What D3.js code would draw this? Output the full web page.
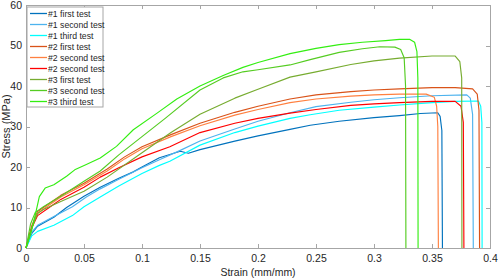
<!DOCTYPE html>
<html lang="en">
<head>
    <meta charset="UTF-8">
    <title>Stress-strain curves</title>
    <script src="https://d3js.org/d3.v7.min.js"></script>
    <style>
        body { margin: 0; background: #fff; }
        svg text { font-family: "Liberation Sans", Arial, sans-serif; fill: #262626; }
        .axis path, .axis line { stroke: #a6a6a6; shape-rendering: crispEdges; }
        .axis text { font-size: 10.5px; }
        .curve { fill: none; stroke-width: 1.15; stroke-linejoin: round; }
    </style>
</head>
<body>
<svg class="chart"></svg>
<script>
    // legend labels
    const seriesNames = ["#1 first test", "#1 second test", "#1 third test",
        "#2 first test", "#2 second test", "#2 second test",
        "#3 first test", "#3 second test", "#3 third test"];

    const xTicks = [0, 0.05, 0.1, 0.15, 0.2, 0.25, 0.3, 0.35, 0.4];
    const yTicks = [0, 10, 20, 30, 40, 50, 60];

    // [strain (mm/mm), stress (MPa)]
    const test1a = [[0,0],[0.005,3.6],[0.01,5.4],[0.024,7.6],[0.035,10],[0.05,12.8],[0.064,15],[0.08,17.2],[0.0925,18.8],[0.1,20],[0.115,22.3],[0.133,23.9],[0.14,23.4],[0.15,24.3],[0.18,26.4],[0.2,27.7],[0.2276,29.3],[0.245,30.3],[0.27,31.3],[0.3,32.2],[0.322,32.7],[0.34,33.2],[0.355,33.4],[0.357,32.5],[0.3585,29],[0.359,0]];
    const test1b = [[0,0],[0.005,3.9],[0.01,5.6],[0.024,7.8],[0.04,10.2],[0.052,12.6],[0.064,14.6],[0.08,17],[0.1,19.8],[0.115,21.8],[0.133,24.1],[0.15,26.4],[0.18,29.4],[0.2,31.3],[0.2276,33.4],[0.25,34.9],[0.28,36],[0.3,36.6],[0.322,37.1],[0.35,37.6],[0.38,37.8],[0.383,37],[0.385,33],[0.3856,0]];
    const test1c = [[0,0],[0.005,3],[0.01,4.1],[0.024,5.6],[0.04,8],[0.05,10.2],[0.064,12.6],[0.08,15.3],[0.1,18.4],[0.115,20.4],[0.124,21.4],[0.15,25.4],[0.18,28.5],[0.2,30.1],[0.2276,32],[0.245,32.9],[0.27,34],[0.3,34.8],[0.322,35.3],[0.35,35.9],[0.37,36.2],[0.39,36.3],[0.392,35],[0.393,31],[0.3932,0]];
    const test2a = [[0,0],[0.005,5.5],[0.01,9],[0.02,11],[0.03,13],[0.05,16],[0.07,19.5],[0.085,22.5],[0.1,25],[0.125,28],[0.15,30.8],[0.18,33.5],[0.2,35],[0.2276,36.8],[0.25,37.8],[0.28,38.6],[0.3,39],[0.322,39.3],[0.35,39.6],[0.37,39.6],[0.385,39.3],[0.389,38],[0.3905,34],[0.391,0]];
    const test2b = [[0,0],[0.005,5],[0.01,8.6],[0.02,10.6],[0.03,12.6],[0.05,15.6],[0.07,19],[0.085,22],[0.1,24.5],[0.125,27.5],[0.15,30.2],[0.18,32.8],[0.2,34.2],[0.2276,35.9],[0.25,36.8],[0.28,37.5],[0.3,37.8],[0.322,38],[0.345,38],[0.352,37.2],[0.354,35],[0.355,30],[0.3555,0]];
    const test2c = [[0,0],[0.005,5],[0.01,8],[0.02,10],[0.03,12],[0.05,15],[0.064,17.5],[0.08,19.8],[0.1,22.5],[0.124,25],[0.15,28.5],[0.18,30.8],[0.2,32],[0.2276,33.3],[0.25,34.2],[0.28,35.2],[0.3,35.6],[0.322,35.9],[0.35,36.2],[0.37,36.2],[0.375,35],[0.377,31],[0.3775,0]];
    const test3a = [[0,0],[0.005,5],[0.01,8.5],[0.015,9.5],[0.03,11.5],[0.05,14],[0.07,17.5],[0.1,23.5],[0.125,28.5],[0.15,33],[0.18,37],[0.2,39.2],[0.2276,42.2],[0.25,43.5],[0.28,45.3],[0.3,46.2],[0.322,46.9],[0.35,47.4],[0.37,47.4],[0.374,46],[0.3756,42],[0.3758,0]];
    const test3b = [[0,0],[0.004,6],[0.008,8.8],[0.015,10.2],[0.03,12.8],[0.05,16.5],[0.064,19],[0.08,23],[0.1,27.5],[0.12,32],[0.15,39],[0.17,42],[0.187,43.5],[0.2,44],[0.2276,45.2],[0.245,46.5],[0.27,48.3],[0.29,49.2],[0.305,49.7],[0.318,49.6],[0.323,49],[0.326,47],[0.3272,40],[0.3275,0]];
    const test3c = [[0,0],[0.005,4.5],[0.008,8.2],[0.0115,12.7],[0.0165,14.8],[0.024,15.6],[0.035,17.7],[0.042,19.3],[0.052,20.6],[0.064,22.2],[0.078,25.1],[0.0925,29.2],[0.113,33.3],[0.13,36.8],[0.15,40],[0.17,42.6],[0.187,44.6],[0.2,45.8],[0.2276,48],[0.25,49.3],[0.27,50.2],[0.29,50.8],[0.31,51.2],[0.322,51.5],[0.331,51.5],[0.335,50.8],[0.337,48.5],[0.3378,42],[0.338,0]];

    const seriesData = [test1a, test1b, test1c, test2a, test2b, test2c, test3a, test3b, test3c];
    const colors = ["#0072BD", "#4DB3EE", "#00FFFF", "#D95319", "#FF8040", "#FF0000", "#77AC30", "#55CC22", "#33EE11"];

    const width = 498, height = 280;
    const margin = { top: 5, right: 8, bottom: 32, left: 26 };
    const w = width - margin.left - margin.right;
    const h = height - margin.top - margin.bottom;

    const svg = d3.select(".chart")
        .attr("width", width)
        .attr("height", height)
        .append("g")
        .attr("transform", `translate(${margin.left},${margin.top})`);

    const x = d3.scaleLinear().domain([0, 0.4]).range([0, w]);
    const y = d3.scaleLinear().domain([0, 60]).range([h, 0]);

    // axes with inward ticks, box style
    svg.append("g").attr("class", "axis")
        .attr("transform", `translate(0,${h})`)
        .call(d3.axisBottom(x).tickValues(xTicks).tickSizeInner(-4).tickSizeOuter(0).tickPadding(7).tickFormat(d3.format("")));
    svg.append("g").attr("class", "axis")
        .call(d3.axisTop(x).tickValues(xTicks).tickSizeInner(-4).tickSizeOuter(0).tickFormat(""));
    svg.append("g").attr("class", "axis")
        .call(d3.axisLeft(y).tickValues(yTicks).tickSizeInner(-4).tickSizeOuter(0).tickPadding(4));
    svg.append("g").attr("class", "axis")
        .attr("transform", `translate(${w},0)`)
        .call(d3.axisRight(y).tickValues(yTicks).tickSizeInner(-4).tickSizeOuter(0).tickFormat(""));

    const line = d3.line().x(d => x(d[0])).y(d => y(d[1]));

    svg.selectAll(".curve")
        .data(seriesData)
        .enter().append("path")
        .attr("class", "curve")
        .attr("stroke", (d, i) => colors[i])
        .attr("d", line);

    // axis titles
    svg.append("text")
        .attr("x", w / 2)
        .attr("y", h + 28)
        .attr("text-anchor", "middle")
        .style("font-size", "10.5px")
        .text("Strain (mm/mm)");
    svg.append("text")
        .attr("transform", `translate(${-16},${h / 2}) rotate(-90)`)
        .attr("text-anchor", "middle")
        .style("font-size", "11px")
        .text("Stress (MPa)");

    // legend
    const legend = svg.append("g").attr("transform", "translate(1,2)");
    legend.append("rect")
        .attr("width", 76).attr("height", 100)
        .attr("fill", "#fff").attr("stroke", "#a6a6a6");
    seriesNames.forEach((name, i) => {
        const ly = 6.5 + i * 11;
        legend.append("line")
            .attr("x1", 3).attr("x2", 20)
            .attr("y1", ly).attr("y2", ly)
            .attr("stroke", colors[i]).attr("stroke-width", 1.3);
        legend.append("text")
            .attr("x", 21).attr("y", ly + 3)
            .style("font-size", "8.7px")
            .text(name);
    });
</script>
</body>
</html>
